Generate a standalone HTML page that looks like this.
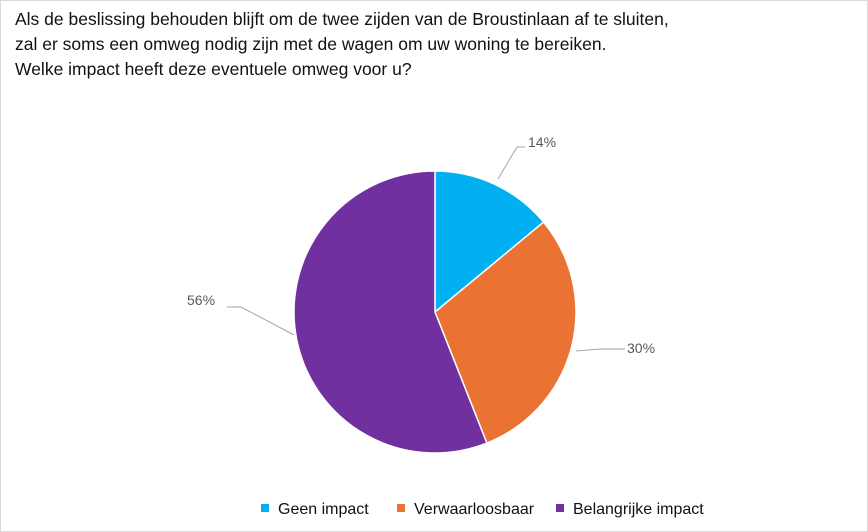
<!DOCTYPE html>
<html><head><meta charset="utf-8"><style>
body{margin:0;background:#fff;}
.wrap{position:relative;width:868px;height:532px;box-sizing:border-box;border:1px solid #d9d9d9;overflow:hidden;font-family:"Liberation Sans",sans-serif;}
.title{position:absolute;left:14px;top:6px;font-size:17.5px;line-height:25px;color:#111;}
</style></head><body><div class="wrap">
<div class="title">Als de beslissing behouden blijft om de twee zijden van de Broustinlaan af te sluiten,<br>zal er soms een omweg nodig zijn met de wagen om uw woning te bereiken.<br>Welke impact heeft deze eventuele omweg voor u?</div>
<svg width="868" height="532" style="position:absolute;left:0;top:0">
<path d="M434,311 L434,170 A141,141 0 0 1 542.6,221.1 Z" fill="#00b0f0" stroke="#fff" stroke-width="1.5"/>
<path d="M434,311 L542.6,221.1 A141,141 0 0 1 485.9,442.1 Z" fill="#ea7232" stroke="#fff" stroke-width="1.5"/>
<path d="M434,311 L485.9,442.1 A141,141 0 1 1 434,170 Z" fill="#7030a0" stroke="#fff" stroke-width="1.5"/>
<g stroke="#a6a6a6" fill="none" stroke-width="1">
<polyline points="497,178 516,146 524,146"/>
<polyline points="575,350 600,348 624,348"/>
<polyline points="293,334 240,306 226,306"/>
</g>
<g font-size="14" fill="#595959" font-family="Liberation Sans,sans-serif">
<text x="527" y="146">14%</text>
<text x="626" y="352">30%</text>
<text x="186" y="304">56%</text>
</g>
<g font-size="16" fill="#111" font-family="Liberation Sans,sans-serif">
<rect x="260" y="503" width="8" height="8" fill="#00b0f0"/><text x="277" y="513">Geen impact</text>
<rect x="396" y="503" width="8" height="8" fill="#ea7232"/><text x="413" y="513">Verwaarloosbaar</text>
<rect x="555" y="503" width="8" height="8" fill="#7030a0"/><text x="572" y="513">Belangrijke impact</text>
</g>
</svg>
</div></body></html>
